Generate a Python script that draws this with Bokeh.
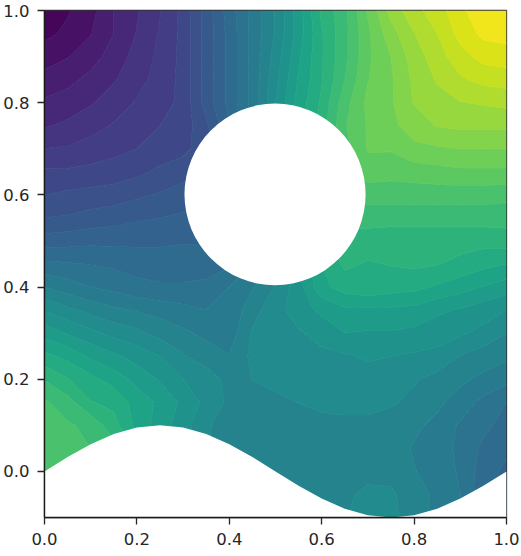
from bokeh.plotting import figure
from bokeh.embed import file_html
from bokeh.resources import INLINE
from bokeh.models import FixedTicker, PrintfTickFormatter, Range1d
from bokeh.palettes import Viridis256
import numpy as np

grid_x = [0.0, .05, .10, .15, .20, .25, .30, .35, .40, .45, .50, .55, .60, .65, .70, .75, .80, .85, .90, .95, 1.0]
grid_y = [1.0, .95, .90, .85, .80, .75, .70, .65, .60, .55, .50, .45, .40, .35, .30, .25, .20, .15, .10, .05, 0.0, -.05, -.10]
y_100 = [.02, .03, .055, .10, .13, .165, .21, .28, .35, .41, .47, .55, .64, .69, .77, .845, .89, .915, .96, .985, .99]
y_095 = [.025, .04, .065, .10, .135, .17, .21, .28, .345, .41, .47, .55, .63, .69, .76, .82, .865, .90, .945, .975, .98]
y_090 = [.05, .065, .085, .115, .145, .175, .21, .28, .345, .41, .48, .56, .63, .69, .76, .80, .85, .885, .92, .945, .95]
y_085 = [.08, .09, .11, .13, .155, .18, .21, .28, .345, .41, .49, .57, .63, .70, .765, .795, .84, .87, .895, .91, .915]
y_080 = [.105, .115, .13, .15, .17, .185, .21, .28, .345, .41, .50, .58, .64, .72, .775, .795, .835, .855, .865, .87, .875]
y_075 = [.13, .14, .155, .17, .185, .20, .215, .26, .33, .41, .50, .58, .65, .73, .77, .79, .82, .835, .84, .84, .84]
y_070 = [.167, .17, .18, .19, .20, .215, .225, .25, .30, .40, .50, .58, .65, .72, .77, .77, .79, .795, .80, .80, .80]
y_065 = [.205, .205, .21, .215, .225, .24, .25, .27, .29, .38, .50, .58, .65, .72, .75, .745, .75, .755, .76, .76, .76]
y_060 = [.233, .24, .245, .25, .26, .27, .285, .29, .30, .38, .50, .58, .65, .71, .715, .715, .715, .715, .715, .715, .71]
y_055 = [.267, .27, .28, .285, .295, .30, .305, .31, .32, .38, .48, .57, .64, .68, .68, .68, .68, .68, .68, .68, .68]
y_050 = [.315, .32, .325, .325, .325, .325, .33, .33, .34, .38, .46, .55, .62, .65, .65, .645, .645, .645, .645, .645, .65]
y_045 = [.375, .37, .365, .36, .355, .355, .355, .35, .36, .40, .46, .53, .60, .64, .63, .635, .64, .635, .625, .61, .60]
y_040 = [.433, .415, .40, .39, .375, .37, .37, .375, .40, .43, .47, .52, .59, .615, .625, .615, .61, .595, .58, .565, .55]
y_035 = [.497, .475, .455, .44, .43, .42, .41, .40, .405, .455, .485, .52, .54, .56, .56, .56, .555, .54, .53, .515, .50]
y_030 = [.553, .53, .51, .49, .475, .455, .44, .425, .415, .47, .485, .495, .515, .533, .53, .53, .525, .515, .505, .49, .4667]
y_025 = [.61, .59, .56, .54, .52, .50, .47, .45, .435, .475, .48, .485, .49, .495, .505, .50, .495, .49, .465, .45, .44]
y_020 = [.664, .635, .61, .585, .555, .53, .50, .485, .455, .467, .475, .48, .485, .485, .485, .48, .47, .455, .44, .425, .41]
y_015 = [.705, .68, .635, .625, .585, .56, .525, .49, .46, .46, .46, .467, .472, .475, .475, .47, .46, .44, .42, .39, .3667]
y_010 = [.715, .705, .69, .645, .59, .55, .515, .47, .455, .455, .455, .455, .46, .46, .46, .455, .44, .425, .395, .375, .355]
y_005 = [.715, .705, .70, .68, .63, .57, .53, .47, .45, .45, .45, .45, .45, .45, .455, .45, .43, .42, .39, .36, .34]
y_000 = [.71, .705, .70, .68, .63, .57, .53, .47, .45, .45, .45, .45, .45, .45, .455, .45, .435, .42, .395, .35, .325]
y_m05 = [.71, .705, .70, .68, .63, .57, .53, .47, .45, .45, .45, .45, .45, .46, .475, .475, .44, .43, .40, .345, .32]
y_m10 = [.71, .705, .70, .68, .63, .57, .53, .47, .45, .45, .45, .45, .45, .465, .48, .48, .44, .43, .40, .34, .32]
value_rows = [y_100, y_095, y_090, y_085, y_080, y_075, y_070, y_065, y_060, y_055, y_050, y_045,
              y_040, y_035, y_030, y_025, y_020, y_015, y_010, y_005, y_000, y_m05, y_m10]

band_count = 30
boundary_x = [0.0, .05, .10, .15, .20, .25, .30, .35, .40, .45, .50, .55, .60, .65, .70, .75, .80, .85, .90, .95, 1.0]
boundary_y = [0.0, .031, .059, .081, .095, .100, .095, .081, .059, .031, 0.0, -.031, -.059, -.081, -.095, -.100, -.095, -.081, -.059, -.031, 0.0]
hole_centre = (0.499, 0.601)
hole_size = (0.392, 0.394)
x_ticks = [0.0, 0.2, 0.4, 0.6, 0.8, 1.0]
y_ticks = [0.0, 0.2, 0.4, 0.6, 0.8, 1.0]

p = figure(width=521, height=556, output_backend="svg", toolbar_location=None,
           x_range=Range1d(0, 1), y_range=Range1d(-0.1, 1.0),
           min_border_left=44, min_border_right=15, min_border_top=10, min_border_bottom=39)
p.grid.visible = False

levels = [i / band_count for i in range(band_count + 1)]
colors = [Viridis256[int((i + 0.5) / band_count * 255)] for i in range(band_count)]
X, Y = np.meshgrid(grid_x, grid_y)
p.contour(X, Y, np.array(value_rows), levels, fill_color=colors,
          line_color=colors + [colors[-1]], line_width=1)

p.varea(x=boundary_x, y1=[-0.1] * len(boundary_x), y2=boundary_y, fill_color="white")
p.ellipse(x=[hole_centre[0]], y=[hole_centre[1]], width=hole_size[0], height=hole_size[1],
          fill_color="white", line_color=None)

for ax, ticks in ((p.xaxis[0], x_ticks), (p.yaxis[0], y_ticks)):
    ax.ticker = FixedTicker(ticks=ticks)
    ax.formatter = PrintfTickFormatter(format="%.1f")
    ax.major_label_text_font = "DejaVu Sans"
    ax.major_label_text_font_size = "16.5px"
    ax.major_label_text_color = "#262626"
    ax.major_label_standoff = 8
    ax.major_tick_out = 7
    ax.major_tick_in = 0
    ax.minor_tick_out = 0
    ax.minor_tick_in = 0
    ax.major_tick_line_color = "#262626"
    ax.major_tick_line_width = 1.3
    ax.axis_line_color = "#1a1a1a"
    ax.axis_line_width = 1.4
p.yaxis[0].major_label_orientation = "horizontal"
p.outline_line_color = "#333333"
p.outline_line_width = 1.3

open("out.html", "w").write(file_html(p, INLINE))
